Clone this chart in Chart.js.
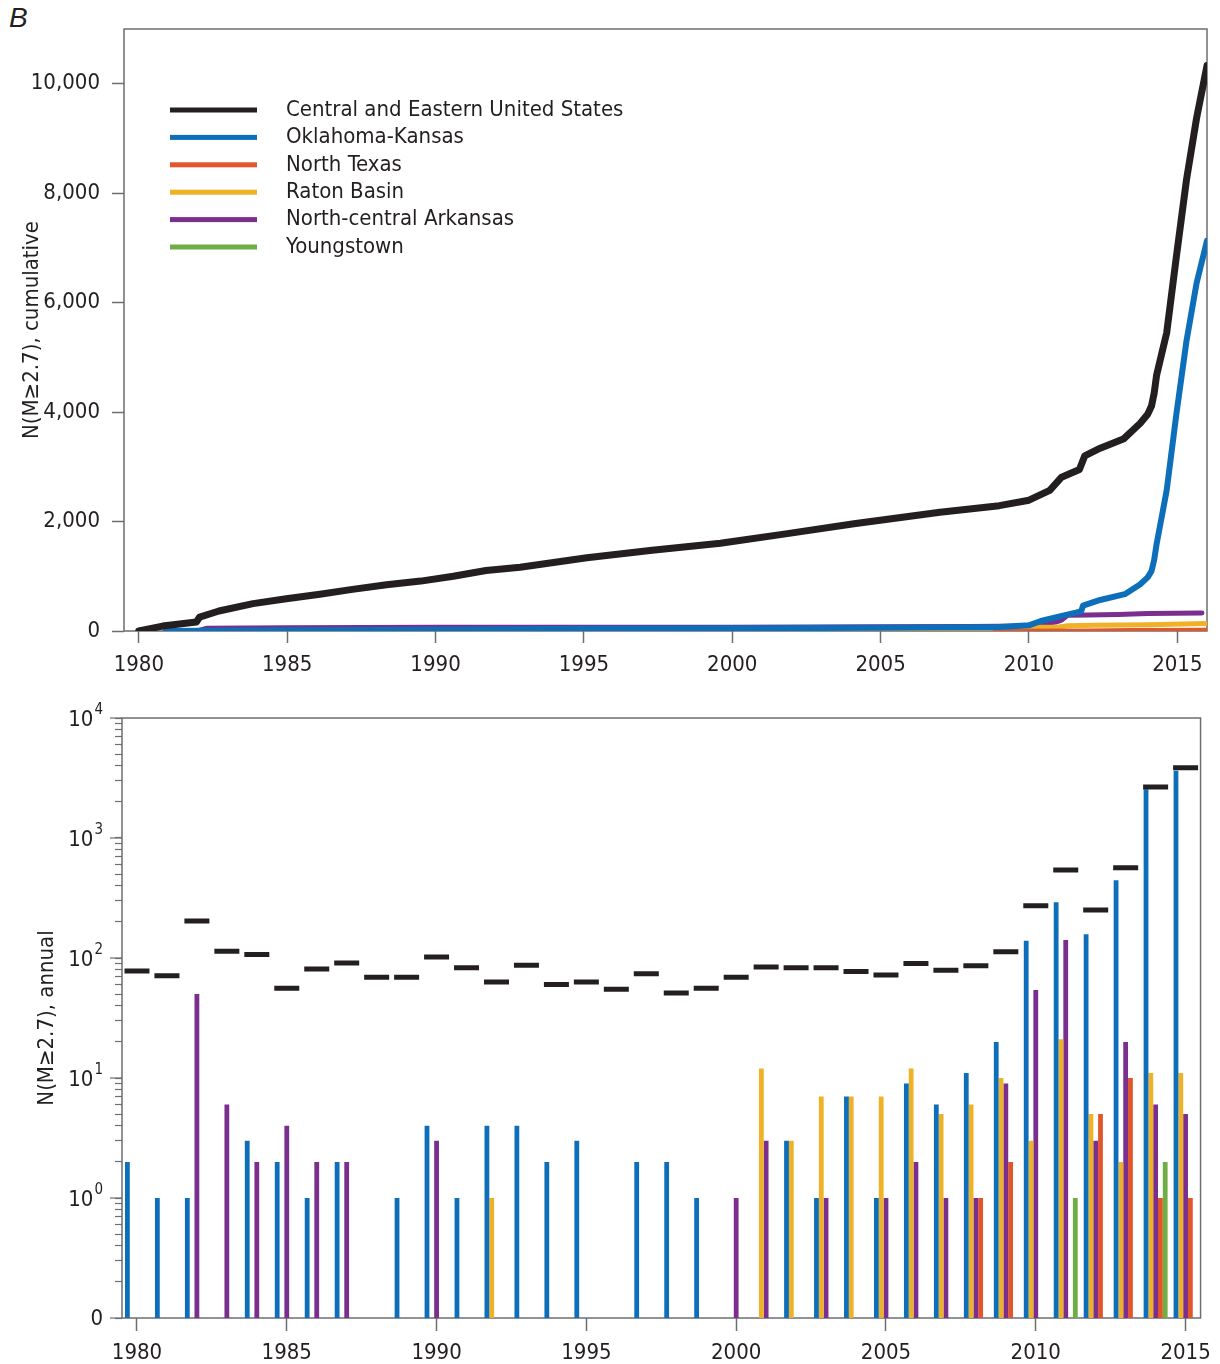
<!DOCTYPE html>
<html>
<head>
<meta charset="utf-8">
<script src="https://cdn.jsdelivr.net/npm/chart.js@4.4.1/dist/chart.umd.min.js"></script>
<style>
  html, body { margin: 0; padding: 0; background: #fff; }
  body { width: 1220px; height: 1364px; position: relative; overflow: hidden; }
  #panel { position: absolute; left: 9px; top: 2px; line-height: 1; color: #231f20;
           font: italic 28px "Liberation Sans", Arial, sans-serif; }
  #cumChart { position: absolute; left: 0; top: 0; }
  #annChart { position: absolute; left: 0; top: 690px; }
</style>
</head>
<body>
<div id="panel">B</div>
<canvas id="cumChart" width="1220" height="690"></canvas>
<canvas id="annChart" width="1220" height="674"></canvas>
<script>
const FONT = '"DejaVu Sans Condensed", "Liberation Sans Narrow", sans-serif';
const FS = 22;
const INK = '#231f20';
const AXIS = '#6d6e71';
const C_CEUS = '#231f20', C_OKKS = '#0d6fba', C_NTX = '#e1562b',
      C_RATON = '#efb125', C_ARK = '#7a2e8e', C_YT = '#6fae44';

// ---- cumulative counts (decimal year, running total)
const ceusT = [1980.0, 1980.8, 1981.94, 1982.05, 1982.7, 1983.85, 1984.97, 1986.1, 1987.2, 1988.35,
  1989.5, 1990.6, 1991.7, 1992.85, 1995.1, 1997.3, 1999.6, 2001.8, 2004.1, 2007.0, 2009.0, 2010.0,
  2010.7, 2011.1, 2011.7, 2011.88, 2012.4, 2013.2, 2013.75, 2014.0, 2014.13, 2014.22, 2014.3,
  2014.47, 2014.64, 2014.97, 2015.31, 2015.65, 2016.0];
const ceusN = [0, 90, 165, 255, 365, 500, 590, 670, 760, 845,
  912, 1000, 1105, 1165, 1340, 1475, 1605, 1775, 1960, 2170, 2290, 2390,
  2570, 2810, 2950, 3200, 3340, 3515, 3795, 3960, 4110, 4350, 4670,
  5060, 5445, 6850, 8250, 9375, 10330];

const okksT = [1980.9, 1985.0, 1990.0, 1995.0, 2000.0, 2005.0, 2009.0, 2010.0, 2010.4, 2011.04,
  2011.76, 2011.82, 2012.4, 2013.23, 2013.74, 2014.0, 2014.13, 2014.22, 2014.3, 2014.47, 2014.64,
  2014.97, 2015.31, 2015.65, 2016.0];
const okksN = [0, 12, 25, 40, 48, 60, 74, 104, 183, 268,
  360, 462, 567, 673, 849, 980, 1093, 1300, 1586, 2075, 2567,
  3972, 5304, 6358, 7130];

const ntxT = [2008.85, 2009.5, 2012.0, 2013.5, 2016.0];
const ntxN = [0, 3, 8, 17, 21];

const ratonT = [1992.25, 2000.0, 2001.5, 2005.0, 2008.0, 2011.0, 2011.3, 2012.2, 2014.0, 2016.0];
const ratonN = [0, 2, 10, 35, 55, 75, 95, 104, 115, 135];

const arkT = [1982.0, 1982.3, 1985.0, 1990.0, 2000.0, 2005.0, 2008.0, 2009.9, 2010.9, 2011.1,
  2011.3, 2012.0, 2013.0, 2014.0, 2015.83];
const arkN = [5, 50, 60, 68, 70, 76, 80, 91, 164, 200,
  286, 292, 300, 318, 330];

const ytT = [2011.99, 2014.18];
const ytN = [0, 2];

const cumYearTicks = [1980, 1985, 1990, 1995, 2000, 2005, 2010, 2015];
const cumCountTicks = [0, 2000, 4000, 6000, 8000, 10000];

// ---- annual counts
const years = [1980, 1981, 1982, 1983, 1984, 1985, 1986, 1987, 1988, 1989,
  1990, 1991, 1992, 1993, 1994, 1995, 1996, 1997, 1998, 1999,
  2000, 2001, 2002, 2003, 2004, 2005, 2006, 2007, 2008, 2009,
  2010, 2011, 2012, 2013, 2014, 2015];
const ceusAnnual = [78, 71, 203, 114, 107, 56, 81, 91, 69, 69,
  102, 83, 63, 87, 60, 63, 55, 74, 51, 56,
  69, 84, 83, 83, 77, 72, 90, 79, 86, 113,
  273, 541, 251, 566, 2660, 3850];
const okksAnnual = [2, 1, 1, 0, 3, 2, 1, 2, 0, 1,
  4, 1, 4, 4, 2, 3, 0, 2, 2, 1,
  0, 0, 3, 1, 7, 1, 9, 6, 11, 20,
  139, 291, 158, 444, 2545, 3640];
const ratonAnnual = [0, 0, 0, 0, 0, 0, 0, 0, 0, 0,
  0, 0, 1, 0, 0, 0, 0, 0, 0, 0,
  0, 12, 3, 7, 7, 7, 12, 5, 6, 10,
  3, 21, 5, 2, 11, 11];
const arkAnnual = [0, 0, 50, 6, 2, 4, 2, 2, 0, 0,
  3, 0, 0, 0, 0, 0, 0, 0, 0, 0,
  1, 3, 0, 1, 0, 1, 2, 1, 1, 9,
  54, 141, 3, 20, 6, 5];
const ntxAnnual = [0, 0, 0, 0, 0, 0, 0, 0, 0, 0,
  0, 0, 0, 0, 0, 0, 0, 0, 0, 0,
  0, 0, 0, 0, 0, 0, 0, 0, 1, 2,
  0, 0, 5, 10, 1, 1];
const ytAnnual = [0, 0, 0, 0, 0, 0, 0, 0, 0, 0,
  0, 0, 0, 0, 0, 0, 0, 0, 0, 0,
  0, 0, 0, 0, 0, 0, 0, 0, 0, 0,
  0, 1, 0, 0, 2, 0];

const decadeValues = [0.1, 1, 10, 100, 1000, 10000];
const decadeExponents = [null, '0', '1', '2', '3', '4'];

// minor log ticks 1..9 per decade
const logTickValues = [];
decadeValues.forEach(d => {
  if (d === 10000) { logTickValues.push(d); return; }
  for (let k = 1; k <= 9; k++) logTickValues.push(+(d * k).toPrecision(2));
});

// ---- shared bits
const frame = {
  id: 'frame',
  beforeDatasetsDraw(chart) {
    const { ctx, chartArea: a } = chart;
    ctx.save();
    ctx.strokeStyle = AXIS;
    ctx.lineWidth = 1.5;
    ctx.strokeRect(a.left, a.top, a.right - a.left, a.bottom - a.top);
    ctx.restore();
  }
};

const insetLegend = {
  id: 'insetLegend',
  afterDatasetsDraw(chart) {
    const { ctx, chartArea: a } = chart;
    ctx.save();
    ctx.font = FS + 'px ' + FONT;
    ctx.textBaseline = 'middle';
    chart.data.datasets.forEach((ds, i) => {
      const y = a.top + 81 + i * 27.4;
      ctx.fillStyle = ds.borderColor;
      ctx.fillRect(a.left + 46, y - 2.5, 87, 5);
      ctx.fillStyle = INK;
      ctx.fillText(ds.label, a.left + 162, y);
    });
    ctx.restore();
  }
};

// decade labels 10^n with a raised exponent, plus the longer decade ticks
const logLabels = {
  id: 'logLabels',
  afterDraw(chart) {
    const s = chart.scales.y;
    const ctx = chart.ctx;
    ctx.save();
    ctx.fillStyle = INK;
    ctx.strokeStyle = AXIS;
    ctx.lineWidth = 1.2;
    ctx.textAlign = 'right';
    ctx.textBaseline = 'middle';
    decadeValues.forEach((v, i) => {
      const y = s.getPixelForValue(v);
      ctx.beginPath();
      ctx.moveTo(s.right - 12, y);
      ctx.lineTo(s.right, y);
      ctx.stroke();
      const right = s.right - 19;
      const exp = decadeExponents[i];
      if (exp === null) {
        ctx.font = FS + 'px ' + FONT;
        ctx.fillText('0', right, y + 1);
        return;
      }
      ctx.font = '15px ' + FONT;
      ctx.fillText(exp, right, y - 8);
      const w = ctx.measureText(exp).width;
      ctx.font = FS + 'px ' + FONT;
      ctx.fillText('10', right - w - 1, y + 2);
    });
    ctx.restore();
  }
};

const tickFont = { family: FONT, size: FS };

// ---- upper panel: cumulative
function cumSet(label, t, n, color, width) {
  return {
    label,
    data: t.map((x, i) => ({ x, y: n[i] })),
    borderColor: color,
    backgroundColor: color,
    borderWidth: width,
    pointRadius: 0,
    tension: 0,
    borderJoinStyle: 'round',
    borderCapStyle: 'round'
  };
}

new Chart(document.getElementById('cumChart'), {
  type: 'line',
  data: {
    datasets: [
      cumSet('Central and Eastern United States', ceusT, ceusN, C_CEUS, 7),
      cumSet('Oklahoma-Kansas', okksT, okksN, C_OKKS, 6),
      cumSet('North Texas', ntxT, ntxN, C_NTX, 4),
      cumSet('Raton Basin', ratonT, ratonN, C_RATON, 5),
      cumSet('North-central Arkansas', arkT, arkN, C_ARK, 5),
      cumSet('Youngstown', ytT, ytN, C_YT, 4)
    ]
  },
  options: {
    responsive: false,
    animation: false,
    events: [],
    layout: { padding: { left: 0, top: 29, right: 13, bottom: 0 } },
    plugins: { legend: { display: false }, tooltip: { enabled: false } },
    scales: {
      x: {
        type: 'linear',
        min: 1979.5,
        max: 2016,
        afterBuildTicks: s => { s.ticks = cumYearTicks.map(v => ({ value: v })); },
        afterFit: s => { s.height = 59; },
        border: { display: false },
        grid: { drawOnChartArea: false, tickLength: 12, tickColor: AXIS, tickWidth: 1.5 },
        ticks: { font: tickFont, color: INK, padding: 9, maxRotation: 0, callback: v => String(v) }
      },
      y: {
        min: 0,
        max: 11000,
        afterBuildTicks: s => { s.ticks = cumCountTicks.map(v => ({ value: v })); },
        afterFit: s => { s.width = 124; },
        border: { display: false },
        grid: { drawOnChartArea: false, tickLength: 12, tickColor: AXIS, tickWidth: 1.5 },
        ticks: { font: tickFont, color: INK, padding: 12, callback: v => v.toLocaleString('en-US') },
        title: { display: true, text: 'N(M≥2.7), cumulative', font: tickFont, color: INK, padding: { top: 19 } }
      }
    }
  },
  plugins: [frame, insetLegend]
});

// ---- lower panel: annual
function annualBar(label, data, color) {
  return { label, data, backgroundColor: color, borderWidth: 0, order: 1 };
}

new Chart(document.getElementById('annChart'), {
  type: 'bar',
  data: {
    labels: years.map(String),
    datasets: [
      {
        type: 'line',
        label: 'Central and Eastern United States',
        data: ceusAnnual,
        showLine: false,
        pointStyle: 'line',
        pointRadius: 12.5,
        pointBorderWidth: 5,
        borderColor: C_CEUS,
        backgroundColor: C_CEUS,
        order: 0
      },
      annualBar('Oklahoma-Kansas', okksAnnual, C_OKKS),
      annualBar('Raton Basin', ratonAnnual, C_RATON),
      annualBar('North-central Arkansas', arkAnnual, C_ARK),
      annualBar('North Texas', ntxAnnual, C_NTX),
      annualBar('Youngstown', ytAnnual, C_YT)
    ]
  },
  options: {
    responsive: false,
    animation: false,
    events: [],
    layout: { padding: { left: 0, top: 28, right: 12, bottom: 0 } },
    datasets: { bar: { categoryPercentage: 0.8, barPercentage: 1 } },
    plugins: { legend: { display: false }, tooltip: { enabled: false } },
    scales: {
      x: {
        offset: true,
        afterBuildTicks: s => { s.ticks = s.ticks.filter(t => years[t.value] % 5 === 0); },
        afterFit: s => { s.height = 46; },
        border: { display: false },
        grid: { offset: false, drawOnChartArea: false, tickLength: 13, tickColor: AXIS, tickWidth: 1.5 },
        ticks: { font: tickFont, color: INK, padding: 9, maxRotation: 0, autoSkip: false }
      },
      y: {
        type: 'logarithmic',
        min: 0.1,
        max: 10000,
        afterBuildTicks: s => { s.ticks = logTickValues.map(v => ({ value: v })); },
        afterFit: s => { s.width = 122; },
        border: { display: false },
        grid: { drawOnChartArea: false, tickLength: 7, tickColor: AXIS, tickWidth: 1.2 },
        ticks: { display: false },
        title: { display: true, text: 'N(M≥2.7), annual', font: tickFont, color: INK, padding: { top: 34 } }
      }
    }
  },
  plugins: [frame, logLabels]
});
</script>
</body>
</html>
